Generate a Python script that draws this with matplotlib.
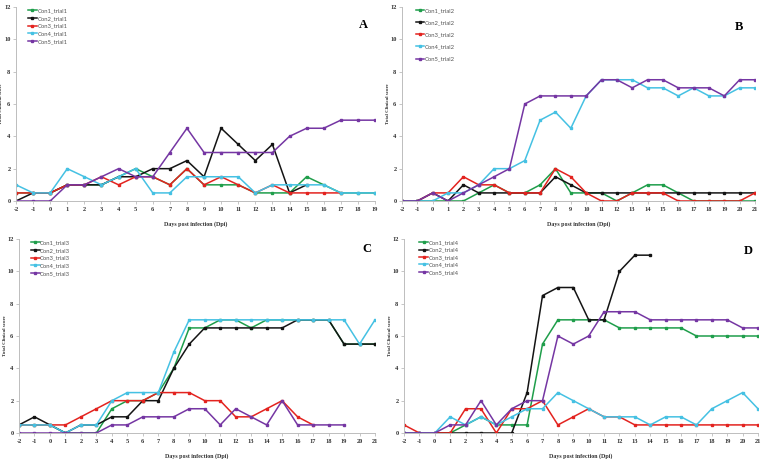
import matplotlib
matplotlib.use("Agg")
import matplotlib.pyplot as plt
import numpy as np

plt.rcParams["axes.unicode_minus"] = False

# ---------------- data ----------------
days_A = list(range(-2, 20))
days_BCD = list(range(-2, 22))

A_con1 = [0.5, 0.5, 0.5, 1, 1, 1, 1.5, 2, 1.5, 1, 2, 1, 1, 1, 0.5, 0.5, 0.5, 1.5, 1, 0.5, 0.5, 0.5]
A_con2 = [0, 0.5, 0.5, 1, 1, 1, 1.5, 1.5, 2, 2, 2.5, 1.5, 4.5, 3.5, 2.5, 3.5, 0.5, 1]
A_con3 = [0.5, 0.5, 0.5, 1, 1, 1.5, 1, 1.5, 1.5, 1, 2, 1, 1.5, 1, 0.5, 1, 0.5, 0.5, 0.5, 0.5]
A_con4 = [1, 0.5, 0.5, 2, 1.5, 1, 1.5, 2, 0.5, 0.5, 1.5, 1.5, 1.5, 1.5, 0.5, 1, 1, 1, 1, 0.5, 0.5, 0.5]
A_con5 = [0, 0, 0, 1, 1, 1.5, 2, 1.5, 1.5, 3, 4.5, 3, 3, 3, 3, 3, 4, 4.5, 4.5, 5, 5, 5]

B_con1 = [0, 0, 0, 0, 0, 0.5, 1, 0.5, 0.5, 1, 2, 0.5, 0.5, 0.5, 0, 0.5, 1, 1, 0.5, 0, 0, 0, 0, 0]
B_con2 = [0, 0, 0.5, 0, 1, 0.5, 0.5, 0.5, 0.5, 0.5, 1.5, 1, 0.5, 0.5, 0.5, 0.5, 0.5, 0.5, 0.5, 0.5, 0.5, 0.5, 0.5, 0.5]
B_con3 = [0, 0, 0.5, 0.5, 1.5, 1, 1, 0.5, 0.5, 0.5, 2, 1.5, 0.5, 0, 0, 0.5, 0.5, 0.5, 0, 0, 0, 0, 0, 0.5]
B_con4 = [0, 0, 0, 0.5, 0.5, 1, 2, 2, 2.5, 5, 5.5, 4.5, 6.5, 7.5, 7.5, 7.5, 7, 7, 6.5, 7, 6.5, 6.5, 7, 7]
B_con5 = [0, 0, 0.5, 0, 0.5, 1, 1.5, 2, 6, 6.5, 6.5, 6.5, 6.5, 7.5, 7.5, 7, 7.5, 7.5, 7, 7, 7, 6.5, 7.5, 7.5]

C_con1 = [0.5, 0.5, 0.5, 0, 0, 0, 1.5, 2, 2, 2.5, 4, 6.5, 6.5, 7, 7, 6.5, 7, 7, 7, 7, 7, 5.5, 5.5, 5.5]
C_con2 = [0.5, 1, 0.5, 0, 0.5, 0.5, 1, 1, 2, 2, 4, 5.5, 6.5, 6.5, 6.5, 6.5, 6.5, 6.5, 7, 7, 7, 5.5, 5.5, 5.5]
C_con3 = [0.5, 0.5, 0.5, 0.5, 1, 1.5, 2, 2, 2, 2.5, 2.5, 2.5, 2, 2, 1, 1, 1.5, 2, 1, 0.5]
C_con4 = [0.5, 0.5, 0.5, 0, 0.5, 0.5, 2, 2.5, 2.5, 2.5, 5, 7, 7, 7, 7, 7, 7, 7, 7, 7, 7, 7, 5.5, 7]
C_con5 = [0, 0, 0, 0, 0, 0, 0.5, 0.5, 1, 1, 1, 1.5, 1.5, 0.5, 1.5, 1, 0.5, 2, 0.5, 0.5, 0.5, 0.5]

D_con1 = [0, 0, 0, 0, 0.5, 1, 0.5, 0.5, 0.5, 5.5, 7, 7, 7, 7, 6.5, 6.5, 6.5, 6.5, 6.5, 6, 6, 6, 6, 6]
D_con2 = [0, 0, 0, 0, 0, 0, 0, 0, 2.5, 8.5, 9, 9, 7, 7, 10, 11, 11]
D_con3 = [0.5, 0, 0, 0, 1.5, 1.5, 0, 1.5, 1.5, 2, 0.5, 1, 1.5, 1, 1, 0.5, 0.5, 0.5, 0.5, 0.5, 0.5, 0.5, 0.5, 0.5]
D_con4 = [0, 0, 0, 1, 0.5, 1, 0.5, 1, 1.5, 1.5, 2.5, 2, 1.5, 1, 1, 1, 0.5, 1, 1, 0.5, 1.5, 2, 2.5, 1.5]
D_con5 = [0, 0, 0, 0.5, 0.5, 2, 0.5, 1.5, 2, 2, 6, 5.5, 6, 7.5, 7.5, 7.5, 7, 7, 7, 7, 7, 7, 6.5, 6.5]

panels = [
    ("A", "trial1", days_A, [A_con1, A_con2, A_con3, A_con4, A_con5]),
    ("B", "trial2", days_BCD, [B_con1, B_con2, B_con3, B_con4, B_con5]),
    ("C", "trial3", days_BCD, [C_con1, C_con2, C_con3, C_con4, C_con5]),
    ("D", "trial4", days_BCD, [D_con1, D_con2, D_con3, D_con4, D_con5]),
]
colors = ["#1f9e4b", "#141414", "#e3231f", "#45c1e3", "#7536a3"]

# ---------------- layout (pixels) ----------------
W, H = 765, 459
fig = plt.figure(figsize=(W / 100, H / 100), dpi=100)

# left, right, top, bottom pixel positions of each axes
boxes = {
    "A": (16, 375, 7, 201),
    "B": (402, 755, 7, 201),
    "C": (19, 375, 239, 433),
    "D": (404, 758, 239, 433),
}
legend_anchor = {"A": 0.03, "B": 0.035, "C": 0.03, "D": 0.04}
legend_spacing = {"A": 0.45, "B": 1.2, "C": 0.45, "D": 0.4}
letter_pos = {"A": (363, 25), "B": (739, 27), "C": (367, 249), "D": (748, 251)}

serif = "Liberation Serif"
axis_col = "#bdbdbd"

for letter, trial, days, series in panels:
    l, r, t, b = boxes[letter]
    ax = fig.add_axes([l / W, (H - b) / H, (r - l) / W, (b - t) / H])
    for i, (vals, c) in enumerate(zip(series, colors)):
        ax.plot(days[:len(vals)], vals, color=c, lw=1.1, marker="s", ms=1.7,
                label=f"Con{i + 1}_{trial}", solid_joinstyle="miter")
    ax.set_xlim(days[0], days[-1])
    ax.set_ylim(0, 12)
    ax.set_xticks(days)
    ax.set_yticks(range(0, 13, 2))
    ax.tick_params(axis="both", labelsize=4.6, length=2, width=0.6, color=axis_col,
                   pad=2, labelcolor="#333333")
    for lab in ax.get_xticklabels() + ax.get_yticklabels():
        lab.set_family(serif)
        lab.set_fontweight("bold")
    for s in ("top", "right"):
        ax.spines[s].set_visible(False)
    for s in ("left", "bottom"):
        ax.spines[s].set_color(axis_col)
        ax.spines[s].set_linewidth(0.7)
    ax.set_xlabel("Days post infection (Dpi)", fontsize=4.3, family=serif,
                  fontweight="bold", color="#333333")
    ax.xaxis.set_label_coords(0.5, -0.105)
    ax.set_ylabel("Total Clinical score", fontsize=3.6, family=serif,
                  fontweight="bold", color="#333333")
    ax.yaxis.set_label_coords(-0.035, 0.5)
    ax.patch.set_alpha(0)
    leg = ax.legend(loc="upper left", bbox_to_anchor=(legend_anchor[letter], 1.0),
                    frameon=False, handlelength=1.5, handletextpad=0.1,
                    labelspacing=legend_spacing[letter], borderpad=0, borderaxespad=0.2,
                    prop={"family": "Lato", "size": 4.2})
    for txt in leg.get_texts():
        txt.set_color("#555555")
    lx, ly = letter_pos[letter]
    fig.text(lx / W, 1 - ly / H, letter, fontsize=9, family=serif, fontweight="bold",
             ha="center", va="center")

fig.savefig("out.png", dpi=100)
